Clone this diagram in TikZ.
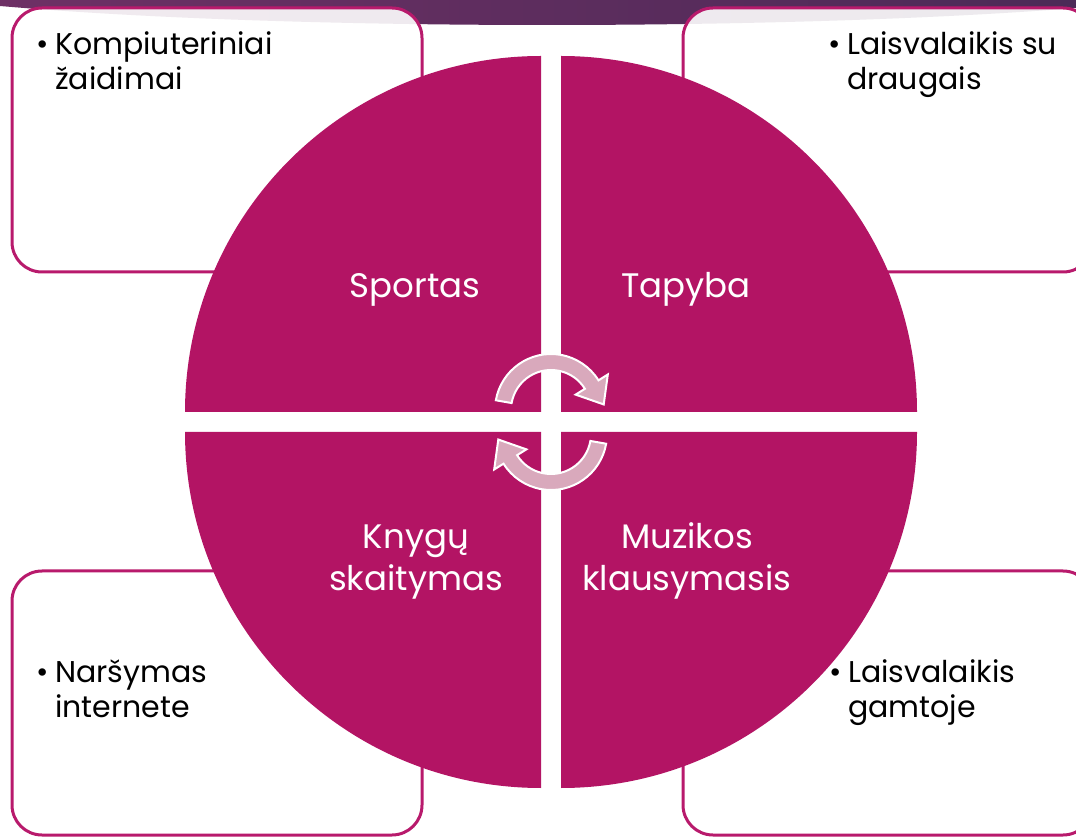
\documentclass[tikz,border=0pt]{standalone}
\usepackage{fontspec}
\setmainfont{Poppins}
\usetikzlibrary{positioning}

\definecolor{quad}{HTML}{B31464}
\definecolor{frame}{HTML}{B81A6C}
\definecolor{cyc}{HTML}{D9A9BC}
\definecolor{bandl}{HTML}{6E3065}
\definecolor{bandr}{HTML}{4C2A57}

\tikzstyle{box} = [draw=frame, line width=3pt, fill=white, fill opacity=0.9, rounded corners=30pt, minimum width=410pt, minimum height=264pt]
\tikzstyle{quadlabel} = [align=center, text=white, inner sep=0pt, font=\fontsize{34}{42}\selectfont]
\tikzstyle{item} = [align=left, text=black, inner sep=0pt, anchor=base west, font=\fontsize{30}{35}\selectfont]
\tikzstyle{cycle} = [fill=cyc, draw=white, line width=2pt]

\begin{document}
\begin{tikzpicture}[x=1pt, y=1pt]
\useasboundingbox (0,0) rectangle (1076,836);
\clip (0,0) rectangle (1076,836);
% band at the top
\shade[left color=bandl, right color=bandr] (0,836) -- (1076,836) -- (1076,828) .. controls (800,806) and (300,804) .. (0,830) -- cycle;

% boxes
\node [box] (games) at (217,696) {};
\node [box] (friends) at (888,696) {};
\node [box] (web) at (217,133) {};
\node [box] (nature) at (888,133) {};

% quadrants
\fill [quad] (541,424) -- ++(-356,0) arc[start angle=180, end angle=90, radius=356] -- cycle;
\fill [quad] (561,424) -- ++(0,356) arc[start angle=90, end angle=0, radius=356] -- cycle;
\fill [quad] (541,404) -- ++(0,-356) arc[start angle=270, end angle=180, radius=356] -- cycle;
\fill [quad] (561,404) -- ++(356,0) arc[start angle=0, end angle=-90, radius=356] -- cycle;

\node [quadlabel, anchor=base] (sport) at (415,538) {Sportas};
\node [quadlabel, anchor=base] (paint) at (686,538) {Tapyba};
\node [quadlabel, anchor=base] (books) at (416,246) {Knygų\\skaitymas};
\node [quadlabel, anchor=base] (music) at (687,246) {Muzikos\\klausymasis};

% arrows in the middle
\begin{scope}[shift={(551,426)}]
\filldraw [cycle] (170:56) arc[start angle=170, end angle=32, radius=56] -- (32:67) -- (6:53) -- (32:29) -- (32:40) arc[start angle=32, end angle=170, radius=40] -- cycle;
\end{scope}
\begin{scope}[shift={(551,402)}, rotate=180]
\filldraw [cycle] (170:56) arc[start angle=170, end angle=32, radius=56] -- (32:67) -- (6:53) -- (32:29) -- (32:40) arc[start angle=32, end angle=170, radius=40] -- cycle;
\end{scope}

% box texts
\node [item] (gamestext) at (55,746) {\llap{•\hspace{6pt}}Kompiuteriniai\\žaidimai};
\node [item] (friendstext) at (847,746) {\llap{•\hspace{6pt}}Laisvalaikis su\\draugais};
\node [item] (webtext) at (55,119) {\llap{•\hspace{6pt}}Naršymas\\internete};
\node [item] (naturetext) at (848,119) {\llap{•\hspace{6pt}}Laisvalaikis\\gamtoje};
\end{tikzpicture}
\end{document}
